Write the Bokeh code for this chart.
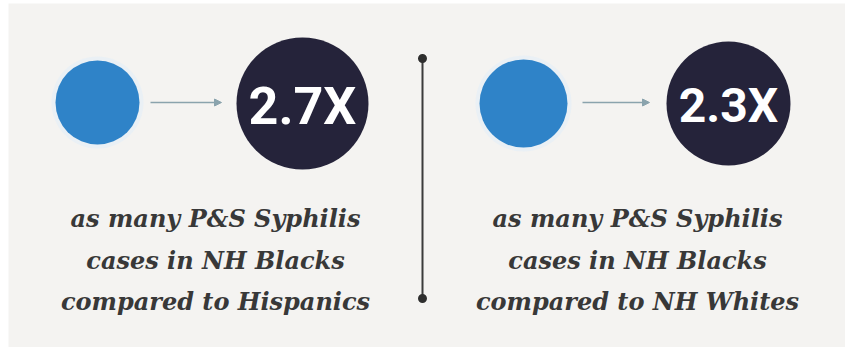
from bokeh.plotting import figure
from bokeh.models import Range1d, ColumnDataSource, Arrow, NormalHead
from bokeh.core.properties import value
from bokeh.embed import file_html
from bokeh.resources import INLINE

# ---- data ----
multipliers = ["2.7X", "2.3X"]
caption_left = ["as many P&S Syphilis", "cases in NH Blacks", "compared to Hispanics"]
caption_right = ["as many P&S Syphilis", "cases in NH Blacks", "compared to NH Whites"]

# ---- layout constants ----
W, H = 845, 347
BG = "#f4f3f1"
BLUE = "#2f83c8"
DARK = "#25233a"
TEXT = "#383838"

p = figure(width=W, height=H, x_range=Range1d(0, W), y_range=Range1d(H, 0),
           output_backend="svg", toolbar_location=None, min_border=0)
p.axis.visible = False
p.grid.visible = False
p.outline_line_color = None
p.background_fill_color = "white"
p.border_fill_color = "white"

# panel
p.quad(left=[8], right=[W], top=[3], bottom=[H], fill_color=BG, line_color=None)

# blue circles (with faint halo)
blue_x = [97, 523]
blue_y = [102, 103]
blue_r = [42, 44]
p.circle(x=blue_x, y=blue_y, radius=[r + 4 for r in blue_r], fill_color="#e3eef8",
         fill_alpha=0.6, line_color=None)
p.circle(x=blue_x, y=blue_y, radius=blue_r, fill_color=BLUE, line_color=None)

# dark circles
dark_x = [302, 728]
dark_y = [103, 103]
dark_r = [66, 62]
p.circle(x=dark_x, y=dark_y, radius=dark_r, fill_color=DARK, line_color=None)

# multiplier labels
src = ColumnDataSource(dict(x=dark_x, y=[106, 105], t=multipliers,
                            fs=["52px", "48px"]))
p.text(x="x", y="y", text="t", source=src, text_align="center", text_baseline="middle",
       text_color="white", text_font=value("Roboto"),
       text_font_style="bold", text_font_size="fs")

# arrows
for x0, x1 in [(150, 221), (582, 649)]:
    p.add_layout(Arrow(x_start=x0, y_start=102, x_end=x1, y_end=102,
                       line_color="#8aa3ad", line_width=1.5,
                       end=NormalHead(size=7, fill_color="#8aa3ad", line_color="#8aa3ad")))

# divider
p.segment(x0=[422], y0=[58], x1=[422], y1=[298], line_color="#3b3b3b", line_width=2)
p.scatter(x=[422, 422], y=[58, 298], size=9, marker="circle", fill_color="#2e2e2e",
          line_color=None)

# captions
base_y = [218, 260, 301]
for cx, lines in [(215, caption_left), (637, caption_right)]:
    p.text(x=[cx] * 3, y=base_y, text=lines, text_align="center",
           text_baseline="alphabetic", text_color=TEXT,
           text_font=value("DejaVu Serif"), text_font_style="bold italic",
           text_font_size="24px")

open("out.html", "w").write(file_html(p, INLINE))
